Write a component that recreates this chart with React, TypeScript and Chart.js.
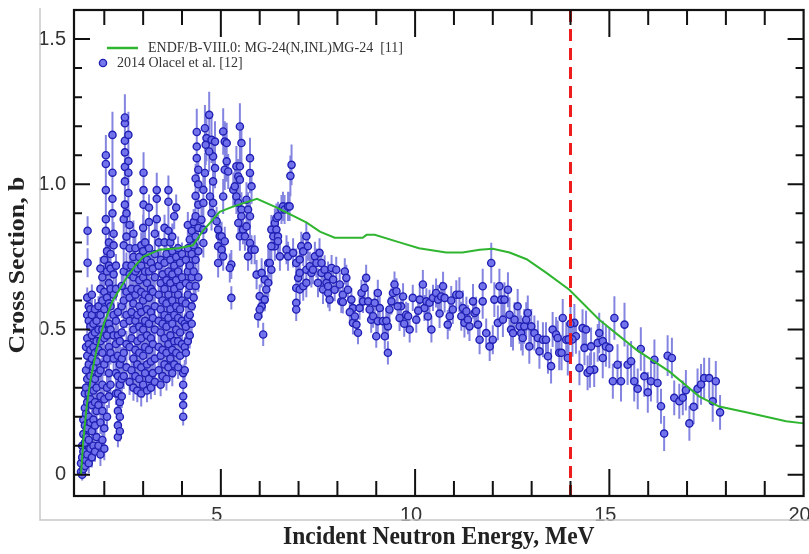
import React, { useEffect, useRef } from 'react';
import { Chart, registerables } from 'chart.js';

Chart.register(...registerables);

// ---- axis settings ----
const xMin = 1.22;
const xMax = 20;
const yMin = -0.073;
const yMax = 1.6;
const xTickValues = [5, 10, 15, 20];
const xTickLabels = ['5', '10', '15', '20'];
const yTickValues = [0, 0.5, 1.0, 1.5];
const yTickLabels = ['0', '0.5', '1.0', '1.5'];
const markerEnergy = 14.0;

const xTitle = 'Incident Neutron Energy, MeV';
const yTitle = 'Cross Section, b';
const endfLabel = 'ENDF/B-VIII.0: MG-24(N,INL)MG-24  [11]';
const olacelLabel = '2014 Olacel et al. [12]';

// ---- ENDF/B-VIII.0 evaluated curve ----
const endfEnergy = [1.40, 1.46, 1.55, 1.65, 1.80, 1.99, 2.22, 2.58, 2.80, 3.00, 3.43, 3.90, 4.28, 4.54, 4.97, 5.31, 5.93, 6.44, 7.21, 7.55, 7.93, 8.65, 8.75, 8.96, 9.60, 10.10, 10.80, 11.22, 11.66, 12.00, 12.43, 12.87, 13.38, 13.97, 14.74, 15.70, 16.54, 17.31, 17.83, 18.52, 19.55, 20.0];
const endfXs = [0.00, 0.12, 0.24, 0.33, 0.43, 0.52, 0.60, 0.68, 0.72, 0.75, 0.775, 0.78, 0.79, 0.84, 0.905, 0.923, 0.950, 0.920, 0.868, 0.837, 0.816, 0.816, 0.826, 0.826, 0.800, 0.780, 0.765, 0.765, 0.775, 0.778, 0.765, 0.742, 0.695, 0.637, 0.534, 0.430, 0.356, 0.270, 0.235, 0.215, 0.184, 0.177];

// ---- 2014 Olacel et al., low-energy region: [energy, uncertainty, cross sections...] ----
const olacelLowColumns: [number, number, number[]][] = [
  [1.40, 0.02, [0.01, 0.04]],
  [1.43, 0.02, [0.00, 0.06, 0.10]],
  [1.46, 0.025, [0.02, 0.08, 0.14, 0.19]],
  [1.50, 0.03, [0.03, 0.11, 0.17, 0.23, 0.28]],
  [1.53, 0.03, [0.05, 0.13, 0.21, 0.30, 0.36, 0.44]],
  [1.56, 0.035, [0.07, 0.16, 0.25, 0.33, 0.41, 0.47, 0.55, 0.61]],
  [1.57, 0.05, [0.73, 0.84]],
  [1.60, 0.035, [0.04, 0.12, 0.20, 0.28, 0.38, 0.45, 0.53, 0.58]],
  [1.64, 0.035, [0.09, 0.18, 0.26, 0.34, 0.43, 0.51, 0.57]],
  [1.68, 0.035, [0.06, 0.15, 0.24, 0.31, 0.40, 0.48, 0.55, 0.62]],
  [1.72, 0.035, [0.10, 0.19, 0.29, 0.37, 0.44, 0.52]],
  [1.76, 0.035, [0.08, 0.17, 0.25, 0.33, 0.42, 0.49, 0.57]],
  [1.80, 0.035, [0.13, 0.22, 0.30, 0.39, 0.46, 0.53]],
  [1.85, 0.035, [0.10, 0.24, 0.35, 0.43, 0.50, 0.58]],
  [1.90, 0.04, [0.07, 0.18, 0.27, 0.36, 0.46, 0.55, 0.64, 0.71]],
  [1.95, 0.04, [0.12, 0.22, 0.31, 0.42, 0.50, 0.60, 0.68]],
  [2.00, 0.04, [0.09, 0.16, 0.26, 0.38, 0.47, 0.57, 0.63, 0.74]],
  [2.04, 0.07, [0.84, 0.88, 0.98, 1.07, 1.10]],
  [2.07, 0.04, [0.20, 0.30, 0.40, 0.48, 0.52, 0.61, 0.70, 0.77]],
  [2.12, 0.04, [0.27, 0.35, 0.44, 0.52, 0.59, 0.66, 0.72, 0.80]],
  [2.16, 0.04, [0.31, 0.42, 0.50, 0.58, 0.64, 0.71, 0.76]],
  [2.21, 0.08, [0.90, 0.95, 1.04, 1.17]],
  [2.24, 0.04, [0.40, 0.48, 0.55, 0.62, 0.69, 0.79, 0.83]],
  [2.30, 0.04, [0.28, 0.35, 0.45, 0.53, 0.64, 0.72]],
  [2.35, 0.035, [0.13, 0.17, 0.22, 0.28, 0.34, 0.41, 0.48, 0.56]],
  [2.40, 0.035, [0.15, 0.20, 0.25, 0.31, 0.38, 0.46]],
  [2.45, 0.04, [0.27, 0.33, 0.40, 0.49, 0.58, 0.65]],
  [2.50, 0.045, [0.34, 0.42, 0.52, 0.60, 0.70, 0.79, 0.88]],
  [2.53, 0.08, [0.93, 1.01, 1.06, 1.11, 1.15, 1.21, 1.23]],
  [2.57, 0.045, [0.37, 0.45, 0.55, 0.63, 0.72, 0.82, 0.90]],
  [2.62, 0.08, [0.97, 1.04, 1.08, 1.17]],
  [2.65, 0.045, [0.32, 0.44, 0.53, 0.61, 0.69, 0.78, 0.86]],
  [2.70, 0.04, [0.36, 0.47, 0.56, 0.64, 0.72]],
  [2.75, 0.045, [0.30, 0.40, 0.50, 0.59, 0.68, 0.75, 0.83]],
  [2.80, 0.04, [0.34, 0.43, 0.53, 0.62, 0.70, 0.78]],
  [2.85, 0.04, [0.29, 0.38, 0.46, 0.55, 0.64, 0.71]],
  [2.90, 0.04, [0.33, 0.42, 0.51, 0.58, 0.67, 0.75]],
  [2.95, 0.045, [0.28, 0.37, 0.47, 0.56, 0.63, 0.72, 0.79]],
  [3.00, 0.045, [0.31, 0.41, 0.50, 0.60, 0.68, 0.77, 0.85]],
  [3.01, 0.07, [0.93, 0.98, 1.04]],
  [3.05, 0.04, [0.35, 0.44, 0.53, 0.62, 0.70, 0.80]],
  [3.10, 0.04, [0.29, 0.38, 0.48, 0.57, 0.66, 0.74]],
  [3.15, 0.045, [0.33, 0.43, 0.52, 0.61, 0.70, 0.78, 0.87, 0.92]],
  [3.20, 0.04, [0.30, 0.39, 0.47, 0.56, 0.64, 0.73]],
  [3.25, 0.04, [0.35, 0.45, 0.54, 0.63, 0.71]],
  [3.30, 0.045, [0.32, 0.40, 0.50, 0.58, 0.68, 0.76, 0.83]],
  [3.35, 0.06, [0.88, 0.95, 0.98]],
  [3.40, 0.04, [0.36, 0.44, 0.53, 0.62, 0.72, 0.80]],
  [3.45, 0.04, [0.31, 0.41, 0.49, 0.57, 0.66, 0.74]],
  [3.50, 0.04, [0.34, 0.43, 0.52, 0.60, 0.69]],
  [3.55, 0.045, [0.38, 0.47, 0.55, 0.64, 0.73, 0.80, 0.85]],
  [3.60, 0.04, [0.33, 0.42, 0.51, 0.59, 0.67, 0.76]],
  [3.65, 0.05, [0.37, 0.45, 0.54, 0.62, 0.70, 0.84, 0.94, 0.98]],
  [3.70, 0.04, [0.40, 0.48, 0.57, 0.66, 0.74, 0.80]],
  [3.75, 0.045, [0.35, 0.43, 0.52, 0.60, 0.69, 0.77, 0.82]],
  [3.80, 0.045, [0.38, 0.46, 0.55, 0.64, 0.72, 0.89]],
  [3.85, 0.045, [0.42, 0.50, 0.58, 0.67, 0.75, 0.92]],
  [3.90, 0.04, [0.37, 0.46, 0.54, 0.62, 0.70, 0.78]],
  [3.95, 0.04, [0.41, 0.49, 0.57, 0.65, 0.73]],
  [4.00, 0.04, [0.45, 0.53, 0.60, 0.68, 0.76]],
  [4.03, 0.03, [0.20, 0.24, 0.27, 0.31, 0.35]],
  [4.07, 0.035, [0.36, 0.44, 0.52]],
  [4.10, 0.04, [0.42, 0.51, 0.59, 0.66, 0.74]],
  [4.15, 0.045, [0.46, 0.54, 0.62, 0.70, 0.78, 0.86]],
  [4.20, 0.045, [0.48, 0.55, 0.65, 0.72, 0.81]],
  [4.25, 0.045, [0.52, 0.58, 0.68, 0.76, 0.84]],
  [4.30, 0.045, [0.61, 0.70, 0.79, 0.87]],
  [4.35, 0.05, [0.65, 0.74, 0.82, 0.89, 0.96, 1.02]],
  [4.38, 0.08, [1.09, 1.13, 1.18]],
  [4.42, 0.05, [0.68, 0.77, 0.85, 0.93, 1.00, 1.05]],
];

// ---- 2014 Olacel et al., 4.5–7.8 MeV: [energy, cross section, uncertainty] ----
const olacelMid: [number, number, number][] = [
  [4.70, 1.239, 0.08], [4.59, 1.193, 0.08], [4.63, 1.159, 0.08], [4.61, 1.136, 0.07], [4.76, 1.153, 0.08],
  [4.85, 1.147, 0.07], [4.80, 1.096, 0.07], [4.70, 1.113, 0.07], [4.85, 1.056, 0.07], [4.59, 1.039, 0.07],
  [4.55, 0.981, 0.06], [4.80, 1.010, 0.07], [4.72, 0.958, 0.06], [4.80, 0.936, 0.06], [4.55, 0.936, 0.06],
  [4.76, 0.901, 0.06], [4.50, 0.878, 0.05], [4.55, 0.844, 0.05], [4.55, 0.798, 0.05], [4.89, 0.873, 0.05],
  [4.93, 0.844, 0.05], [4.97, 0.821, 0.05], [4.93, 0.787, 0.05], [5.02, 0.775, 0.05], [5.06, 0.752, 0.05],
  [4.93, 0.729, 0.05], [5.02, 0.821, 0.05], [5.10, 0.804, 0.05], [5.06, 1.182, 0.08], [5.10, 1.147, 0.07],
  [5.15, 1.142, 0.07], [5.10, 1.050, 0.07], [5.15, 1.079, 0.07], [5.19, 1.044, 0.06], [5.06, 0.958, 0.06],
  [5.27, 0.724, 0.05], [5.23, 0.712, 0.05], [5.27, 0.609, 0.04], [5.32, 0.981, 0.06], [5.36, 0.993, 0.06],
  [5.40, 1.062, 0.07], [5.49, 1.199, 0.08], [5.53, 1.142, 0.07], [5.49, 1.062, 0.07], [5.45, 1.027, 0.06],
  [5.49, 1.016, 0.06], [5.40, 0.958, 0.06], [5.45, 0.936, 0.06], [5.53, 0.913, 0.06], [5.53, 0.890, 0.05],
  [5.45, 0.867, 0.05], [5.57, 0.844, 0.05], [5.49, 0.821, 0.05], [5.75, 1.090, 0.07], [5.75, 1.039, 0.07],
  [5.79, 0.993, 0.06], [5.66, 0.947, 0.06], [5.70, 0.913, 0.06], [5.75, 0.890, 0.05], [5.66, 0.855, 0.05],
  [5.62, 0.821, 0.05], [5.75, 0.798, 0.05], [5.79, 0.775, 0.05], [5.87, 0.775, 0.05], [5.70, 0.752, 0.05],
  [5.92, 0.689, 0.05], [6.05, 0.695, 0.05], [6.13, 0.672, 0.05], [6.22, 0.661, 0.05], [6.17, 0.638, 0.05],
  [6.00, 0.615, 0.04], [6.13, 0.603, 0.04], [6.05, 0.580, 0.04], [5.96, 0.546, 0.04], [6.09, 0.483, 0.04],
  [6.00, 0.569, 0.04], [6.22, 0.729, 0.05], [6.30, 0.844, 0.05], [6.39, 0.867, 0.05], [6.43, 0.884, 0.05],
  [6.47, 0.890, 0.05], [6.43, 0.844, 0.05], [6.35, 0.821, 0.05], [6.47, 0.821, 0.05], [6.39, 0.787, 0.05],
  [6.30, 0.787, 0.05], [6.47, 0.804, 0.05], [6.52, 0.752, 0.05], [6.56, 0.913, 0.05], [6.60, 0.924, 0.05],
  [6.64, 0.913, 0.05], [6.73, 0.924, 0.05], [6.77, 0.924, 0.05], [6.26, 0.729, 0.05], [6.30, 0.706, 0.05],
  [6.82, 1.067, 0.07], [6.79, 1.029, 0.07], [6.69, 0.775, 0.05], [6.73, 0.752, 0.05], [6.86, 0.764, 0.05],
  [6.94, 0.729, 0.05], [6.99, 0.678, 0.05], [6.94, 0.643, 0.05], [6.94, 0.592, 0.04], [6.94, 0.569, 0.04],
  [7.03, 0.695, 0.05], [7.03, 0.638, 0.05], [7.03, 0.741, 0.05], [7.07, 0.787, 0.05], [7.12, 0.769, 0.05],
  [7.20, 0.821, 0.05], [7.24, 0.787, 0.05], [7.20, 0.706, 0.05], [7.12, 0.649, 0.05], [7.20, 0.661, 0.05],
  [7.29, 0.718, 0.05], [7.33, 0.695, 0.05], [7.37, 0.706, 0.05], [7.42, 0.752, 0.05], [7.46, 0.729, 0.05],
  [7.50, 0.661, 0.05], [7.54, 0.764, 0.05], [7.59, 0.695, 0.05], [7.63, 0.638, 0.05], [7.67, 0.706, 0.05],
  [7.72, 0.661, 0.05], [7.76, 0.684, 0.05], [7.76, 0.626, 0.05],
];

// ---- 2014 Olacel et al., 7.5–11.1 MeV ----
const olacelPlateau: [number, number, number][] = [
  [7.59, 0.729, 0.045], [7.76, 0.649, 0.04], [7.85, 0.712, 0.045], [7.89, 0.672, 0.04], [7.80, 0.603, 0.04],
  [7.93, 0.637, 0.04], [7.97, 0.706, 0.045], [8.06, 0.655, 0.04], [8.10, 0.597, 0.04], [8.14, 0.620, 0.04],
  [8.19, 0.700, 0.045], [8.23, 0.678, 0.045], [8.27, 0.637, 0.04], [8.36, 0.603, 0.04], [8.40, 0.574, 0.04],
  [8.40, 0.523, 0.04], [8.49, 0.517, 0.04], [8.53, 0.489, 0.04], [8.57, 0.574, 0.04], [8.62, 0.626, 0.045],
  [8.66, 0.597, 0.04], [8.74, 0.678, 0.045], [8.70, 0.643, 0.04], [8.79, 0.597, 0.04], [8.83, 0.569, 0.04],
  [8.87, 0.534, 0.045], [8.92, 0.546, 0.04], [8.96, 0.592, 0.045], [9.04, 0.626, 0.045], [9.04, 0.529, 0.045],
  [9.09, 0.574, 0.04], [9.17, 0.529, 0.045], [9.22, 0.477, 0.045], [9.30, 0.511, 0.045], [9.30, 0.420, 0.04],
  [9.34, 0.569, 0.045], [9.39, 0.597, 0.045], [9.43, 0.626, 0.045], [9.47, 0.655, 0.045], [9.52, 0.632, 0.045],
  [9.60, 0.540, 0.045], [9.64, 0.580, 0.045], [9.69, 0.614, 0.045], [9.77, 0.551, 0.045], [9.82, 0.546, 0.045],
  [9.86, 0.500, 0.045], [9.94, 0.609, 0.045], [10.03, 0.534, 0.045], [10.12, 0.603, 0.045], [10.20, 0.655, 0.05],
  [10.24, 0.574, 0.045], [10.29, 0.597, 0.045], [10.37, 0.592, 0.045], [10.42, 0.500, 0.045], [10.46, 0.609, 0.045],
  [10.54, 0.626, 0.05], [10.59, 0.603, 0.05], [10.67, 0.614, 0.05], [10.72, 0.649, 0.05], [10.76, 0.609, 0.05],
  [10.84, 0.517, 0.05], [10.89, 0.546, 0.05], [10.97, 0.569, 0.05], [11.06, 0.620, 0.05],
  [8.14, 0.595, 0.04], [8.32, 0.560, 0.04], [8.45, 0.545, 0.04], [9.00, 0.477, 0.04], [9.26, 0.530, 0.045],
  [9.55, 0.580, 0.045], [9.72, 0.520, 0.045], [10.08, 0.565, 0.045], [10.33, 0.545, 0.045], [10.63, 0.555, 0.05],
  [10.93, 0.600, 0.05],
];

// ---- 2014 Olacel et al., 11.1–14.7 MeV ----
const olacelHigh: [number, number, number][] = [
  [11.14, 0.620, 0.06], [11.23, 0.574, 0.06], [11.19, 0.546, 0.05], [11.27, 0.523, 0.05], [11.32, 0.563, 0.05],
  [11.36, 0.534, 0.05], [11.40, 0.511, 0.05], [11.49, 0.597, 0.06], [11.53, 0.557, 0.05], [11.57, 0.563, 0.05],
  [11.62, 0.517, 0.05], [11.66, 0.465, 0.05], [11.74, 0.649, 0.06], [11.74, 0.597, 0.06], [11.83, 0.488, 0.05],
  [11.92, 0.442, 0.05], [11.96, 0.729, 0.07], [12.00, 0.465, 0.05], [12.04, 0.603, 0.06], [12.13, 0.523, 0.06],
  [12.17, 0.649, 0.06], [12.22, 0.603, 0.06], [12.26, 0.534, 0.06], [12.30, 0.603, 0.06], [12.39, 0.637, 0.06],
  [12.43, 0.551, 0.06], [12.47, 0.500, 0.06], [12.52, 0.488, 0.06], [12.56, 0.534, 0.06], [12.64, 0.580, 0.06],
  [12.69, 0.511, 0.06], [12.73, 0.488, 0.06], [12.77, 0.471, 0.06], [12.81, 0.511, 0.06], [12.86, 0.534, 0.06],
  [12.90, 0.557, 0.06], [12.94, 0.442, 0.06], [12.99, 0.511, 0.06], [13.07, 0.488, 0.06], [13.16, 0.471, 0.06],
  [13.20, 0.425, 0.06], [13.29, 0.465, 0.06], [13.37, 0.465, 0.06], [13.42, 0.408, 0.06], [13.50, 0.374, 0.06],
  [13.54, 0.500, 0.06], [13.63, 0.483, 0.06], [13.67, 0.471, 0.06], [13.71, 0.420, 0.06], [13.80, 0.540, 0.065],
  [13.89, 0.465, 0.06], [13.93, 0.402, 0.06], [14.10, 0.523, 0.065], [14.14, 0.477, 0.06], [14.23, 0.368, 0.06],
  [14.31, 0.505, 0.065], [14.36, 0.437, 0.06], [14.44, 0.351, 0.06], [14.53, 0.442, 0.065], [14.61, 0.362, 0.06],
  [14.70, 0.454, 0.065], [14.00, 0.520, 0.06], [14.05, 0.466, 0.06], [13.77, 0.420, 0.06], [13.95, 0.466, 0.06],
  [14.40, 0.500, 0.065], [14.50, 0.360, 0.06],
];

// ---- 2014 Olacel et al., 14.7–18 MeV ----
const olacelTail: [number, number, number][] = [
  [14.74, 0.488, 0.07], [14.83, 0.460, 0.07], [14.83, 0.402, 0.07], [14.91, 0.442, 0.07], [15.00, 0.437, 0.07],
  [15.09, 0.322, 0.06], [15.13, 0.540, 0.075], [15.21, 0.379, 0.07], [15.30, 0.322, 0.07], [15.39, 0.517, 0.075],
  [15.47, 0.379, 0.07], [15.56, 0.391, 0.07], [15.64, 0.322, 0.07], [15.73, 0.296, 0.07], [15.81, 0.433, 0.075],
  [15.90, 0.339, 0.07], [15.99, 0.284, 0.07], [16.07, 0.322, 0.07], [16.16, 0.396, 0.07], [16.24, 0.316, 0.07],
  [16.33, 0.236, 0.06], [16.41, 0.142, 0.06], [16.50, 0.410, 0.07], [16.61, 0.402, 0.07], [16.67, 0.265, 0.06],
  [16.80, 0.253, 0.06], [16.89, 0.265, 0.06], [16.97, 0.291, 0.07], [17.06, 0.177, 0.06], [17.17, 0.234, 0.06],
  [17.27, 0.296, 0.07], [17.36, 0.311, 0.07], [17.44, 0.333, 0.07], [17.57, 0.333, 0.07], [17.66, 0.253, 0.07],
  [17.74, 0.322, 0.07], [17.85, 0.215, 0.06],
];

type Pt = { x: number; y: number; e: number };

const POINT_FILL = 'rgba(112,112,236,0.95)';
const POINT_BORDER = '#2020b4';
const BAR_COLOR = 'rgba(84,84,214,0.72)';
const LINE_GREEN = '#2fb52f';

export default function App() {
  const ref = useRef<HTMLCanvasElement>(null);

  useEffect(() => {
    const pts: Pt[] = [];
    olacelLowColumns.forEach(([e, d, list]) => list.forEach((s) => pts.push({ x: e, y: s, e: d })));
    [...olacelMid, ...olacelPlateau, ...olacelHigh, ...olacelTail].forEach(([e, s, d]) => pts.push({ x: e, y: s, e: d }));

    const endfData = endfEnergy.map((e, i) => ({ x: e, y: endfXs[i] }));

    const errorBars = {
      id: 'errorBars',
      beforeDatasetsDraw(chart: any) {
        const { ctx, chartArea, scales } = chart;
        ctx.save();
        ctx.beginPath();
        ctx.rect(chartArea.left, chartArea.top, chartArea.right - chartArea.left, chartArea.bottom - chartArea.top);
        ctx.clip();
        ctx.strokeStyle = BAR_COLOR;
        ctx.lineWidth = 2;
        ctx.beginPath();
        pts.forEach((p) => {
          const x = scales.x.getPixelForValue(p.x);
          ctx.moveTo(x, scales.y.getPixelForValue(p.y - p.e));
          ctx.lineTo(x, scales.y.getPixelForValue(p.y + p.e));
        });
        ctx.stroke();
        ctx.restore();
      },
    };

    const decorations = {
      id: 'decorations',
      afterDatasetsDraw(chart: any) {
        const { ctx, chartArea, scales } = chart;
        const xm = scales.x.getPixelForValue(markerEnergy);
        ctx.save();
        ctx.strokeStyle = '#ee1c1c';
        ctx.lineWidth = 3;
        ctx.setLineDash([12, 7]);
        ctx.beginPath();
        ctx.moveTo(xm, chartArea.top);
        ctx.lineTo(xm, chartArea.bottom);
        ctx.stroke();
        ctx.restore();
      },
      afterDraw(chart: any) {
        const { ctx, chartArea, scales } = chart;
        const { left, right, top, bottom } = chartArea;
        ctx.save();
        // outer light-gray figure border
        ctx.strokeStyle = '#c8c8c8';
        ctx.lineWidth = 1.5;
        ctx.beginPath();
        ctx.moveTo(40, 8);
        ctx.lineTo(40, 520);
        ctx.lineTo(809, 520);
        ctx.stroke();

        // frame
        ctx.strokeStyle = '#111';
        ctx.lineWidth = 2.2;
        ctx.strokeRect(left, top, right - left, bottom - top);

        // ticks
        ctx.lineWidth = 2;
        ctx.beginPath();
        for (let v = 2; v <= 19; v++) {
          const x = scales.x.getPixelForValue(v);
          const len = v % 5 === 0 ? 27 : 15;
          ctx.moveTo(x, bottom);
          ctx.lineTo(x, bottom - len);
          ctx.moveTo(x, top);
          ctx.lineTo(x, top + len);
        }
        for (let k = 0; k <= 16; k++) {
          const v = k / 10;
          const y = scales.y.getPixelForValue(v);
          const len = k % 5 === 0 ? 16 : 8;
          ctx.moveTo(left, y);
          ctx.lineTo(left + len, y);
          ctx.moveTo(right, y);
          ctx.lineTo(right - len, y);
        }
        ctx.stroke();

        // axis titles
        ctx.fillStyle = '#222';
        ctx.font = 'bold 23.5px "Liberation Serif", "Times New Roman", serif';
        ctx.textAlign = 'center';
        ctx.textBaseline = 'middle';
        ctx.save();
        ctx.translate((left + right) / 2, 537);
        ctx.scale(1, 1.1);
        ctx.fillText(xTitle, 0, 0);
        ctx.restore();
        ctx.save();
        ctx.translate(18, 265);
        ctx.rotate(-Math.PI / 2);
        ctx.scale(1.1, 1);
        ctx.fillText(yTitle, 0, 0);
        ctx.restore();

        // legend
        ctx.strokeStyle = LINE_GREEN;
        ctx.lineWidth = 2.5;
        ctx.beginPath();
        ctx.moveTo(107, 48);
        ctx.lineTo(138, 48);
        ctx.stroke();
        ctx.fillStyle = POINT_FILL;
        ctx.strokeStyle = POINT_BORDER;
        ctx.lineWidth = 1.4;
        ctx.beginPath();
        ctx.arc(103, 63, 3.6, 0, Math.PI * 2);
        ctx.fill();
        ctx.stroke();
        ctx.fillStyle = '#333';
        ctx.font = '14px "Liberation Serif", "Times New Roman", serif';
        ctx.textBaseline = 'middle';
        ctx.textAlign = 'left';
        ctx.fillText(endfLabel, 148, 48);
        ctx.fillText(olacelLabel, 117, 63);
        ctx.restore();
      },
    };

    const tickFont = { family: '"Liberation Sans", Arial, sans-serif', size: 20 };

    const chart = new Chart(ref.current as HTMLCanvasElement, {
      type: 'scatter',
      data: {
        datasets: [
          {
            label: endfLabel,
            data: endfData,
            showLine: true,
            borderColor: LINE_GREEN,
            backgroundColor: LINE_GREEN,
            borderWidth: 2,
            pointRadius: 0,
            tension: 0,
            order: 0,
          } as any,
          {
            label: olacelLabel,
            data: pts,
            pointRadius: 3.6,
            pointBorderWidth: 1.4,
            backgroundColor: POINT_FILL,
            borderColor: POINT_BORDER,
            order: 1,
          } as any,
        ],
      },
      options: {
        animation: false,
        responsive: false,
        maintainAspectRatio: false,
        events: [],
        layout: { padding: { top: 10, right: 4, left: 0, bottom: 0 } },
        plugins: { legend: { display: false }, tooltip: { enabled: false } },
        scales: {
          x: {
            type: 'linear',
            min: xMin,
            max: xMax,
            afterFit: (s: any) => { s.height = 58; s.paddingLeft = 0; s.paddingRight = 0; },
            afterBuildTicks: (s: any) => { s.ticks = xTickValues.map((v) => ({ value: v })); },
            grid: { display: false, drawTicks: false },
            border: { display: false },
            ticks: {
              font: tickFont,
              color: '#333',
              padding: 7,
              labelOffset: -4,
              autoSkip: false,
              maxRotation: 0,
              callback: (_v: any, i: number) => xTickLabels[i],
            },
            title: { display: false },
          },
          y: {
            type: 'linear',
            min: yMin,
            max: yMax,
            afterFit: (s: any) => { s.width = 74; s.paddingTop = 0; s.paddingBottom = 0; },
            afterBuildTicks: (s: any) => { s.ticks = yTickValues.map((v) => ({ value: v })); },
            grid: { display: false, drawTicks: false },
            border: { display: false },
            ticks: {
              font: tickFont,
              color: '#333',
              padding: 8,
              autoSkip: false,
              callback: (_v: any, i: number) => yTickLabels[i],
            },
            title: { display: false },
          },
        },
      } as any,
      plugins: [errorBars, decorations],
    });

    return () => chart.destroy();
  }, []);

  return (
    <div style={{ position: 'fixed', left: 0, top: 0, width: 809, height: 554, background: '#fff' }}>
      <canvas ref={ref} width={809} height={554} style={{ display: 'block', width: 809, height: 554 }} />
    </div>
  );
}
